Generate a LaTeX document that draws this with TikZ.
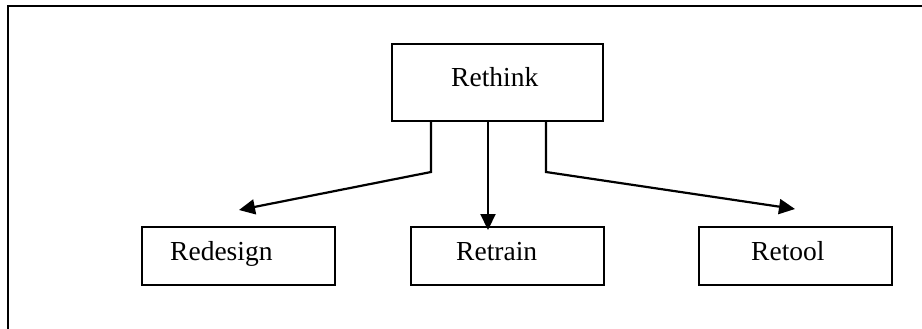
\documentclass[tikz,border=0pt]{standalone}
\usepackage{fontspec}
\setmainfont{Liberation Serif}
\usetikzlibrary{arrows.meta}
\begin{document}
\begin{tikzpicture}[x=1pt,y=-1pt,
  boxnode/.style={draw=black,line width=2pt,rectangle,inner sep=0pt,outer sep=0pt,anchor=north west},
  lbl/.style={font=\fontsize{27.5}{30}\selectfont,inner sep=0pt,anchor=base west},
  conn/.style={draw=black,line width=2.2pt,-{Triangle[length=16pt,width=15pt]}},
  framel/.style={draw=black,line width=2.2pt}]
\useasboundingbox (0,0) rectangle (922,329);
\fill[white] (0,0) rectangle (922,329);
% open frame (top and left only)
\coordinate (fbl) at (8,335);
\coordinate (ftl) at (8,6);
\coordinate (ftr) at (930,6);
\draw[framel] (fbl) -- (ftl) -- (ftr);
% boxes
\node[boxnode,minimum width=211pt,minimum height=77pt] (rethink) at (392,44) {};
\node[boxnode,minimum width=193pt,minimum height=58pt] (redesign) at (142,227) {};
\node[boxnode,minimum width=193pt,minimum height=58pt] (retrain) at (411,227) {};
\node[boxnode,minimum width=193pt,minimum height=58pt] (retool) at (699,227) {};
% labels
\node[lbl] (trethink) at (451,86.5) {Rethink};
\node[lbl] (tredesign) at (170,260) {Redesign};
\node[lbl] (tretrain) at (456,260) {Retrain};
\node[lbl] (tretool) at (751,260) {Retool};
% connectors
\coordinate (lbend) at (431,172);
\coordinate (ltip) at (239,210);
\coordinate (rbend) at (546,172);
\coordinate (rtip) at (795,209);
\draw[conn] ([xshift=-66.5pt]rethink.south) -- (lbend) -- (ltip);
\draw[conn] ([xshift=-9.5pt]rethink.south) -- ([xshift=-19.5pt,yshift=-3pt]retrain.north);
\draw[conn] ([xshift=48.5pt]rethink.south) -- (rbend) -- (rtip);
\end{tikzpicture}
\end{document}
